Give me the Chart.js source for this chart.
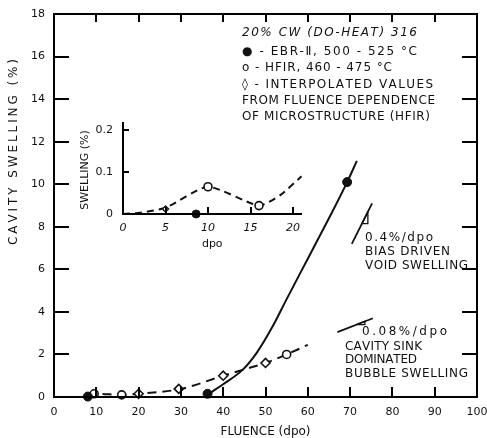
<!DOCTYPE html>
<html><head><meta charset="utf-8">
<script src="https://cdn.jsdelivr.net/npm/chart.js@4.4.1/dist/chart.umd.min.js"></script>
<style>
html,body{margin:0;padding:0;background:#fff;}
#wrap{position:relative;width:487px;height:438px;overflow:hidden;}
#main{position:absolute;left:0;top:0;}
#inset{position:absolute;left:60px;top:110px;}
</style></head><body>
<div id="wrap"><canvas id="main" width="487" height="438"></canvas><canvas id="inset" width="260" height="150"></canvas></div>
<script>
// ---------- data ----------
const xTickValues = [0,10,20,30,40,50,60,70,80,90,100];
const xTickLabels = ['0','10','20','30','40','50','60','70','80','90','100'];
const yTickValues = [0,2,4,6,8,10,12,14,16,18];
const yTickLabels = ['0','2','4','6','8','10','12','14','16','18'];

// EBR-II trend (solid)
const ebrCurveX = [37, 40, 44.7, 48, 51.5, 55, 60, 65, 69.3, 71.6];
const ebrCurveY = [0.2, 0.6, 1.3, 2.1, 3.25, 4.6, 6.5, 8.4, 10.1, 11.1];
// HFIR trend (dashed)
const hfirCurveX = [8, 10, 16, 20, 30, 40, 45, 50, 55, 60];
const hfirCurveY = [0.05, 0.15, 0.1, 0.15, 0.38, 1.0, 1.3, 1.6, 2.0, 2.45];
// measured points
const ebrPointsX = [8, 36.3, 69.3];
const ebrPointsY = [0.02, 0.15, 10.1];
const hfirPointsX = [9.5, 16, 55];
const hfirPointsY = [0.15, 0.1, 2.0];
const interpPointsX = [20, 29.5, 40, 50];
const interpPointsY = [0.15, 0.38, 1.0, 1.6];
// slope indicators
const slopeBiasX = [70.4, 75.2];
const slopeBiasY = [7.2, 9.1];
const slopeBiasTriX = [72.8, 74.2, 74.2, 72.8];
const slopeBiasTriY = [8.15, 8.15, 8.70, 8.15];
const slopeSinkX = [67, 75.4];
const slopeSinkY = [3.05, 3.7];
const slopeSinkTriX = [71.5, 73.5, 73.5, 71.5];
const slopeSinkTriY = [3.40, 3.40, 3.56, 3.40];

// inset
const insetXTicks = [0,5,10,15,20];
const insetXLabels = ['0','5','10','15','20'];
const insetYTicks = [0,0.1,0.2];
const insetYLabels = ['0','0.1','0.2'];
const insetCurveX = [0, 2, 5, 10, 16, 18.5, 21];
const insetCurveY = [0, 0.003, 0.015, 0.065, 0.02, 0.045, 0.09];
const insetEbrX = [8.6];
const insetEbrY = [0];
const insetHfirX = [10, 16];
const insetHfirY = [0.065, 0.02];
const insetInterpX = [5];
const insetInterpY = [0.012];

// text
const legendLines = [
  '20% CW (DO-HEAT) 316',
  '\u25CF - EBR-\u2161, 500 - 525 \u00B0C',
  'o - HFIR, 460 - 475 \u00B0C',
  '\u25CA - INTERPOLATED VALUES',
  'FROM FLUENCE DEPENDENCE',
  'OF MICROSTRUCTURE (HFIR)'
];
const biasLines = ['0.4%/dpo', 'BIAS DRIVEN', 'VOID SWELLING'];
const sinkLines = ['0.08%/dpo', 'CAVITY SINK', 'DOMINATED', 'BUBBLE SWELLING'];
const yTitle = 'CAVITY SWELLING (%)';
const xTitle = 'FLUENCE (dpo)';

// ---------- helpers ----------
const INK = '#111';
const FONT = '"DejaVu Sans", sans-serif';
const pts = (xs, ys) => xs.map((x, i) => ({x, y: ys[i]}));

function spacedText(ctx, text, x, y, width, font, rotate) {
  ctx.save();
  ctx.font = font; ctx.fillStyle = INK; ctx.textBaseline = 'middle'; ctx.textAlign = 'left';
  ctx.translate(x, y); if (rotate) ctx.rotate(rotate);
  const chars = Array.from(text);
  const ws = chars.map(c => ctx.measureText(c).width);
  const total = ws.reduce((a, b) => a + b, 0);
  const gap = chars.length > 1 ? (width - total) / (chars.length - 1) : 0;
  let cx = 0;
  chars.forEach((c, i) => { ctx.fillText(c, cx, 0); cx += ws[i] + gap; });
  ctx.restore();
}

const mainDeco = {
  id: 'mainDeco',
  afterDraw(chart) {
    const ctx = chart.ctx, a = chart.chartArea, sx = chart.scales.x, sy = chart.scales.y;
    const f12 = '12px ' + FONT;
    const legendY = [33, 52, 68, 85, 101, 117];
    const legendW = [175, 175, 150, 191, 193, 188];
    legendLines.forEach((t, i) => spacedText(ctx, t, 242, legendY[i], legendW[i], (i === 0 ? 'italic ' : '') + f12));
    const biasY = [238, 252, 266], biasW = [68, 85, 103];
    biasLines.forEach((t, i) => spacedText(ctx, t, 365, biasY[i], biasW[i], f12));
    const sinkX = [362, 345, 345, 345], sinkY = [332, 347, 360, 374], sinkW = [85, 77, 72, 123];
    sinkLines.forEach((t, i) => spacedText(ctx, t, sinkX[i], sinkY[i], sinkW[i], f12));
    spacedText(ctx, yTitle, 14, 245, 186, f12, -Math.PI / 2);

    ctx.save();
    ctx.fillStyle = '#000';
    ctx.fillRect(a.left - 1, a.top - 1, a.right - a.left + 2, 2);
    ctx.fillRect(a.left - 1, a.bottom - 1, a.right - a.left + 2, 2);
    ctx.fillRect(a.left - 1, a.top, 2, a.bottom - a.top);
    ctx.fillRect(a.right - 1, a.top, 2, a.bottom - a.top);
    for (let i = 1; i < xTickValues.length - 1; i++) {
      const px = sx.getPixelForValue(xTickValues[i]);
      ctx.fillRect(Math.round(px) - 1, Math.round(a.top), 2, 8);
      ctx.fillRect(Math.round(px) - 1, Math.round(a.bottom) - 10, 2, 10);
    }
    for (let i = 1; i < yTickValues.length - 1; i++) {
      const py = sy.getPixelForValue(yTickValues[i]);
      ctx.fillRect(Math.round(a.left), Math.round(py) - 1, 15, 2);
      ctx.fillRect(Math.round(a.right) - 15, Math.round(py) - 1, 15, 2);
    }
    ctx.restore();
  }
};

const lineDs = (data, extra) => Object.assign({
  data, showLine: true, borderColor: INK, borderWidth: 2, pointRadius: 0,
  fill: false, clip: false
}, extra);

new Chart(document.getElementById('main'), {
  type: 'scatter',
  data: {
    datasets: [
      {data: pts(ebrPointsX, ebrPointsY), pointRadius: 4.5, pointBackgroundColor: INK, pointBorderColor: INK, clip: false},
      {data: pts(hfirPointsX, hfirPointsY), pointRadius: 4, pointBackgroundColor: '#fff', pointBorderColor: INK, pointBorderWidth: 1.6, clip: false},
      {data: pts(interpPointsX, interpPointsY), pointStyle: 'rectRot', pointRadius: 4.5, pointBackgroundColor: '#fff', pointBorderColor: INK, pointBorderWidth: 1.6, clip: false},
      lineDs(pts(ebrCurveX, ebrCurveY), {cubicInterpolationMode: 'monotone'}),
      lineDs(pts(hfirCurveX, hfirCurveY), {cubicInterpolationMode: 'monotone', borderDash: [9, 6]}),
      lineDs(pts(slopeBiasX, slopeBiasY), {borderWidth: 1.8}),
      lineDs(pts(slopeBiasTriX, slopeBiasTriY), {borderWidth: 1.3}),
      lineDs(pts(slopeSinkX, slopeSinkY), {borderWidth: 1.8}),
      lineDs(pts(slopeSinkTriX, slopeSinkTriY), {borderWidth: 1.3})
    ]
  },
  options: {
    responsive: false, animation: false, devicePixelRatio: 1,
    layout: {padding: {top: 14, right: 10, left: 0, bottom: 0}},
    plugins: {legend: {display: false}, tooltip: {enabled: false}},
    scales: {
      x: {
        type: 'linear', min: 0, max: 100,
        grid: {display: false, drawTicks: false}, border: {display: false},
        afterBuildTicks: s => { s.ticks = xTickValues.map(v => ({value: v})); },
        ticks: {callback: (v, i) => xTickLabels[i], font: {family: FONT, size: 11}, color: INK, padding: 9, maxRotation: 0, autoSkip: false},
        title: {display: true, text: xTitle, font: {family: FONT, size: 12, lineHeight: 1}, color: INK, padding: {top: 0, bottom: 0}},
        afterFit: s => { s.height = 41; s.paddingLeft = 0; s.paddingRight = 0; }
      },
      y: {
        type: 'linear', min: 0, max: 18,
        grid: {display: false, drawTicks: false}, border: {display: false},
        afterBuildTicks: s => { s.ticks = yTickValues.map(v => ({value: v})); },
        ticks: {callback: (v, i) => yTickLabels[i], font: {family: FONT, size: 11}, color: INK, padding: 9, autoSkip: false},
        afterFit: s => { s.width = 54; s.paddingTop = 0; s.paddingBottom = 0; }
      }
    }
  },
  plugins: [mainDeco]
});

// ---------- inset ----------
const insetDeco = {
  id: 'insetDeco',
  afterDraw(chart) {
    const ctx = chart.ctx, a = chart.chartArea, sx = chart.scales.x, sy = chart.scales.y;
    ctx.save();
    ctx.fillStyle = '#000';
    ctx.fillRect(Math.round(a.left) - 1, Math.round(a.top) - 4, 2, Math.round(a.bottom - a.top) + 5);
    ctx.fillRect(Math.round(a.left) - 1, Math.round(a.bottom) - 1, Math.round(a.right - a.left) + 1, 2);
    for (let i = 1; i < insetXTicks.length; i++) {
      const px = sx.getPixelForValue(insetXTicks[i]);
      ctx.fillRect(Math.round(px) - 1, Math.round(a.bottom) - 7, 2, 7);
    }
    for (let i = 1; i < insetYTicks.length; i++) {
      const py = sy.getPixelForValue(insetYTicks[i]);
      ctx.fillRect(Math.round(a.left), Math.round(py) - 1, 6, 2);
    }
    ctx.restore();
  }
};

new Chart(document.getElementById('inset'), {
  type: 'scatter',
  data: {
    datasets: [
      {data: pts(insetEbrX, insetEbrY), pointRadius: 4, pointBackgroundColor: INK, pointBorderColor: INK, clip: false},
      {data: pts(insetHfirX, insetHfirY), pointRadius: 4, pointBackgroundColor: '#fff', pointBorderColor: INK, pointBorderWidth: 1.6, clip: false},
      {data: pts(insetInterpX, insetInterpY), pointStyle: 'rectRot', pointRadius: 3, pointBackgroundColor: '#fff', pointBorderColor: INK, pointBorderWidth: 1.4, clip: false},
      lineDs(pts(insetCurveX, insetCurveY), {tension: 0.2, borderDash: [7, 5]})
    ]
  },
  options: {
    responsive: false, animation: false, devicePixelRatio: 1,
    layout: {padding: {top: 16, right: 18.5, left: 0, bottom: 0}},
    plugins: {legend: {display: false}, tooltip: {enabled: false}},
    scales: {
      x: {
        type: 'linear', min: 0, max: 21,
        grid: {display: false, drawTicks: false}, border: {display: false},
        afterBuildTicks: s => { s.ticks = insetXTicks.map(v => ({value: v})); },
        ticks: {callback: (v, i) => insetXLabels[i], font: {family: FONT, size: 11, style: 'italic'}, color: INK, padding: 8, maxRotation: 0, autoSkip: false},
        title: {display: true, text: 'dpo', font: {family: FONT, size: 11, lineHeight: 1}, color: INK, padding: {top: 0, bottom: 10.5}},
        afterFit: s => { s.height = 46; s.paddingLeft = 0; s.paddingRight = 0; }
      },
      y: {
        type: 'linear', min: 0, max: 0.21,
        grid: {display: false, drawTicks: false}, border: {display: false},
        afterBuildTicks: s => { s.ticks = insetYTicks.map(v => ({value: v})); },
        ticks: {callback: (v, i) => insetYLabels[i], font: {family: FONT, size: 11}, color: INK, padding: 10, autoSkip: false},
        title: {display: true, text: 'SWELLING (%)', font: {family: FONT, size: 11, lineHeight: 1}, color: INK, padding: {top: 19.5, bottom: 0}},
        afterFit: s => { s.width = 63; s.paddingTop = 0; s.paddingBottom = 0; }
      }
    }
  },
  plugins: [insetDeco]
});
</script>
</body></html>
